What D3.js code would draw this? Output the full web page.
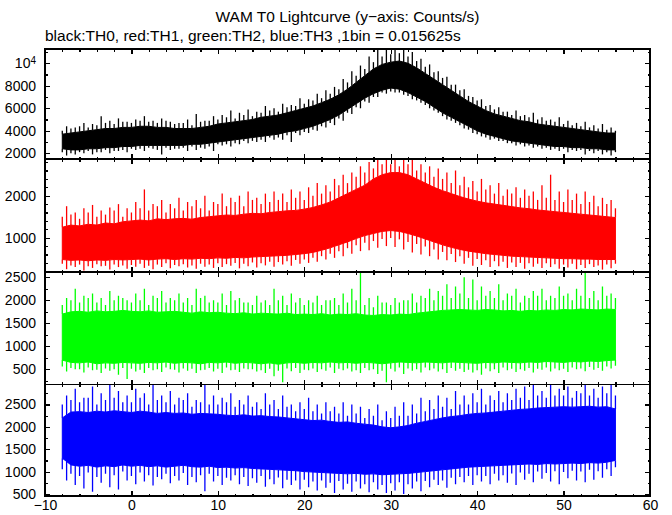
<!DOCTYPE html>
<html><head><meta charset="utf-8">
<script src="https://cdn.jsdelivr.net/npm/d3@7"></script>
<style>
body{margin:0;background:#fff}
text{font-family:"Liberation Sans",Arial,Helvetica,sans-serif}
</style>
</head><body>
<svg id="c" width="672" height="515"></svg>
<script>
// ---------------- text ----------------
const titleText = "WAM T0 Lightcurve (y\u2212axis: Counts/s)";
const subtitleText = "black:TH0, red:TH1, green:TH2, blue:TH3 ,1bin = 0.015625s";

// ---------------- time grid (s) ----------------
const tStart = -8, tEnd = 56;
const xTicks = [-10, 0, 10, 20, 30, 40, 50, 60];
const xMinorStep = 2;

// ---------------- tick values ----------------
const th0Ticks = [2000, 4000, 6000, 8000, 10000];
const th1Ticks = [1000, 2000];
const th2Ticks = [500, 1000, 1500, 2000, 2500];
const th3Ticks = [500, 1000, 1500, 2000, 2500];
const th0Minor = 1000, th1Minor = 200, th2Minor = 250, th3Minor = 250;
const th0Range = [1490, 11270];
const th1Range = [183, 2874];
const th2Range = [170, 2615];
const th3Range = [455, 2946];

// ---------------- TH0 (black) counts/s ----------------
// dense band edges at whole seconds t = -8..56
const th0CoreHi = [3700,3800,3900,4000,4100,4200,4200,4300,
  4300,4400,4400,4300,4300,4200,4200,4200,4300,4400,
  4600,4700,4800,4900,5000,5200,5300,5400,5600,5800,
  6000,6200,6500,6800,7200,7700,8300,8900,9500,9900,
  10100,10200,10000,9600,9100,8600,8100,7600,7100,6600,
  6200,5800,5500,5300,5100,4900,4800,4600,4500,4400,
  4300,4200,4100,4000,3900,3800,3800];
const th0CoreLo = [2400,2300,2300,2400,2400,2500,2500,2600,
  2600,2700,2700,2700,2700,2700,2700,2800,2800,2900,
  3000,3100,3200,3300,3400,3500,3600,3700,3900,4000,
  4200,4400,4700,5000,5400,5900,6400,6900,7300,7600,
  7800,7700,7400,7000,6600,6100,5600,5200,4800,4400,
  4000,3700,3500,3300,3100,3000,2900,2800,2700,2600,
  2600,2500,2500,2400,2400,2300,2300];
// secondary extreme bins at whole seconds t = -8..56
const th0MidHi = [4000,4200,4400,4300,4500,4700,4600,4800,
  4700,4900,4800,4700,4900,4600,4700,4500,4800,4900,
  5000,5200,5100,5400,5300,5600,5800,5700,6100,6200,
  6400,6700,6900,7300,7700,8300,8900,9500,10100,10600,
  10800,10900,10600,10200,9700,9200,8700,8100,7600,7100,
  6700,6200,5900,5700,5400,5300,5200,5000,4900,4800,
  4600,4500,4400,4300,4200,4100,4000];
const th0MidLo = [2100,2000,2100,2200,2100,2300,2200,2300,
  2400,2400,2500,2300,2500,2400,2500,2600,2500,2600,
  2800,2800,2900,3100,3100,3200,3400,3400,3600,3800,
  3900,4100,4400,4700,5100,5600,6100,6600,7000,7400,
  7500,7400,7100,6700,6300,5800,5300,4900,4500,4100,
  3700,3400,3300,3100,2900,2800,2700,2600,2500,2400,
  2400,2300,2300,2200,2200,2100,2100];
// extreme bins in each second (at t+0.5, t = -8..55)
const th0SpikeHi = [4400,4300,4700,4600,5300,4900,5100,4800,
  5000,5300,4900,5100,4800,4700,5000,5500,4900,5300,
  5400,5800,5600,5900,5700,6200,6000,6400,6300,6900,
  6800,7300,7600,7900,8600,9300,9800,10600,11300,11400,
  11400,11300,11000,10400,9900,9300,8800,8100,7700,7000,
  6800,6300,6100,5700,5800,5400,5600,5200,5000,5200,
  4900,4700,4800,4500,4600,4300];
const th0SpikeLo = [1800,1900,2000,1900,2100,2000,2200,2100,
  2300,2200,2400,1900,2300,2400,2200,2300,2400,2200,
  2700,2600,2800,2900,3000,3000,3200,3200,3000,3600,
  3800,4000,4300,4500,4900,5500,6000,6500,7000,7300,
  7400,7200,6800,6500,6000,5600,5000,4700,4200,3800,
  3500,3200,3100,2900,2700,2600,2500,2400,2300,2200,
  2100,2200,1900,2000,1900,1800];

// ---------------- TH1 (red) ----------------
const th1CoreHi = [1250,1300,1280,1320,1300,1350,1330,1380,
  1400,1420,1400,1450,1430,1450,1460,1440,1480,1500,
  1520,1540,1530,1560,1580,1570,1600,1620,1640,1650,
  1680,1720,1780,1850,1950,2050,2150,2250,2400,2500,
  2550,2550,2500,2400,2300,2200,2120,2050,1980,1920,
  1870,1830,1800,1770,1740,1710,1690,1660,1640,1620,
  1600,1580,1560,1540,1520,1500,1480];
const th1CoreLo = [480,460,470,450,470,460,480,470,
  480,490,470,490,500,480,500,490,510,500,
  520,510,530,520,540,550,560,570,580,600,
  620,650,700,760,830,900,980,1050,1100,1150,
  1170,1150,1100,1040,970,900,830,770,720,680,
  650,620,600,580,560,550,540,530,520,510,
  500,500,490,490,480,480,480];
const th1MidHi = [1500,1550,1450,1600,1500,1550,1650,1500,
  1600,1700,1650,1750,1600,1700,1650,1750,1700,1650,
  1800,1750,1850,1750,1900,1800,1850,1900,1850,1950,
  1900,2000,2050,2100,2250,2300,2450,2550,2650,2750,
  2750,2700,2750,2600,2550,2450,2400,2300,2250,2200,
  2100,2150,2050,2000,2050,1950,2000,1900,1950,1900,
  1850,1900,1800,1850,1750,1800,1700];
const th1MidLo = [380,340,360,320,370,330,360,340,
  350,380,330,360,390,350,370,340,380,360,
  390,370,400,380,410,390,430,420,440,470,
  480,520,560,620,680,750,820,880,920,970,
  990,960,900,850,790,720,660,610,560,520,
  490,460,440,430,410,400,390,380,390,370,
  360,380,350,370,340,360,380];
const th1SpikeHi = [1750,1600,1700,1780,1650,1720,1800,1700,
  1850,2150,1800,1900,1800,1950,1850,1900,2000,1850,
  2050,1950,2000,2100,1950,2050,2100,2050,2150,2100,
  2200,2300,2250,2400,2500,2550,2700,2800,2880,2880,
  2880,2850,2880,2750,2700,2650,2550,2600,2450,2350,
  2400,2250,2300,2150,2200,2150,2100,2250,2500,2100,
  2150,2050,2100,2000,1950,1900];
const th1SpikeLo = [250,300,220,280,320,240,300,260,
  310,280,250,300,270,320,290,260,310,280,
  300,330,270,320,290,340,310,360,330,380,
  400,430,480,520,560,620,680,700,760,800,
  780,720,650,600,560,480,460,420,380,330,
  350,300,320,280,300,260,310,280,300,260,
  290,250,280,300,240,270];

// ---------------- TH2 (green) ----------------
const th2CoreHi = [1700,1750,1760,1740,1770,1750,1760,1780,
  1760,1750,1770,1740,1750,1760,1740,1720,1750,1730,
  1740,1720,1710,1730,1700,1720,1710,1700,1720,1690,
  1700,1690,1710,1680,1700,1690,1710,1680,1670,1690,
  1680,1700,1690,1720,1740,1760,1780,1790,1800,1790,
  1780,1800,1790,1770,1780,1760,1780,1770,1790,1780,
  1800,1790,1810,1800,1790,1810,1800];
const th2CoreLo = [700,650,640,660,620,640,630,650,
  640,630,650,640,660,630,650,640,620,650,
  640,660,630,650,640,620,640,610,640,650,
  630,650,640,660,640,650,630,650,640,620,
  640,660,650,640,660,650,640,660,650,640,
  630,650,640,660,650,640,660,650,670,660,
  650,670,660,680,670,690,700];
const th2MidHi = [1900,2000,1950,2050,1950,1900,2000,2050,
  1950,2000,1900,2050,1950,2000,1950,1900,2050,1950,
  1950,1900,2000,1950,1900,1950,1900,2000,1900,1950,
  1900,1950,1900,2000,1900,1950,2000,1900,1850,1950,
  1900,1950,2000,1950,2050,2000,2100,2050,2150,2050,
  2000,2100,2050,2000,2100,1950,2050,2100,2000,2050,
  2100,2000,2100,2050,2000,2100,2050];
const th2MidLo = [560,530,500,540,490,520,500,530,
  510,490,530,500,540,490,520,510,480,530,
  510,540,490,520,500,480,510,470,520,530,
  490,520,500,540,510,520,480,530,500,470,
  510,540,520,500,540,520,500,530,510,490,
  480,520,500,540,510,500,530,510,540,520,
  510,540,520,550,530,560,580];
const th2SpikeHi = [2050,2250,2100,2150,2050,2200,2100,2000,
  2150,2250,2100,2200,2050,2150,2050,2250,2100,2000,
  2150,2200,2050,1950,2100,2000,2250,2100,2150,2050,
  2000,2100,2000,2050,2150,2250,2620,2050,2100,1950,
  2050,2000,2150,2100,2250,2200,2350,2300,2500,2450,
  2300,2200,2350,2150,2250,2100,2200,2250,2100,2300,
  2150,2250,2620,2200,2300,2150];
const th2SpikeLo = [450,500,430,480,420,470,380,290,
  450,420,480,440,500,430,470,420,490,450,
  420,480,440,500,450,420,350,220,460,420,
  480,440,470,420,480,450,420,480,400,220,
  450,400,470,430,480,450,420,470,440,430,
  380,460,420,480,440,470,430,490,450,480,
  440,500,460,490,470,520];

// ---------------- TH3 (blue) ----------------
const th3CoreHi = [2200,2330,2340,2320,2350,2330,2360,2340,
  2320,2350,2330,2300,2320,2300,2310,2280,2300,2290,
  2280,2260,2250,2270,2240,2250,2230,2220,2200,2180,
  2160,2140,2150,2120,2100,2110,2080,2060,2040,2000,
  1980,2000,2030,2080,2120,2160,2200,2230,2250,2280,
  2300,2310,2330,2350,2370,2390,2400,2420,2430,2440,
  2450,2440,2450,2460,2440,2450,2400];
const th3CoreLo = [1300,1150,1120,1140,1100,1130,1110,1150,
  1120,1140,1110,1130,1100,1120,1140,1110,1100,1120,
  1090,1100,1080,1090,1070,1060,1050,1040,1030,1020,
  1000,990,980,970,960,950,960,940,950,930,
  940,950,960,980,1000,1020,1040,1060,1080,1100,
  1110,1120,1130,1140,1150,1160,1170,1160,1180,1170,
  1180,1190,1180,1200,1190,1210,1250];
const th3MidHi = [2500,2600,2550,2650,2500,2600,2650,2550,
  2550,2650,2500,2600,2550,2500,2600,2450,2550,2500,
  2500,2550,2450,2500,2450,2400,2500,2400,2450,2350,
  2400,2350,2300,2350,2300,2250,2300,2200,2250,2150,
  2200,2250,2250,2300,2350,2400,2450,2400,2500,2500,
  2550,2500,2600,2550,2600,2650,2600,2700,2650,2700,
  2700,2650,2750,2700,2650,2750,2700];
const th3MidLo = [1050,950,900,980,880,950,920,1000,
  900,980,920,880,950,900,970,880,920,950,
  900,860,920,880,850,900,830,870,820,800,
  820,780,800,750,790,730,780,720,760,700,
  740,760,720,780,790,820,800,860,880,900,
  920,900,950,920,960,980,950,1000,970,1010,
  990,1020,1000,1040,1010,1050,1100];
const th3SpikeHi = [2700,2850,2650,2900,2750,2950,2800,2700,
  2850,2750,2950,2700,2800,2650,2750,2600,2950,2700,
  2650,2750,2600,2700,2550,2750,2600,2700,2500,2550,
  2650,2500,2550,2450,2550,2500,2450,2400,2500,2350,
  2450,2550,2500,2650,2600,2700,2650,2800,2700,2750,
  2850,2700,2800,2750,2850,2900,2950,2800,2950,2850,
  2900,2800,2950,2850,2900,2950];
const th3SpikeLo = [800,700,620,550,750,650,600,800,
  720,780,690,830,740,800,700,760,560,780,
  700,800,720,680,750,660,720,630,700,600,
  650,580,640,520,600,550,620,540,600,520,
  580,500,620,560,650,700,640,720,760,700,
  780,720,800,750,700,820,760,840,780,720,
  850,800,760,820,860,900];

// ---------------- layout ----------------
const svg = d3.select("#c");
const xLeft = 45, xRight = 650;
const majorLen = 5, minorLen = 2.5;
const fontSize = 14, titleSize = 15.5;

const x = d3.scaleLinear().domain([-10, 60]).range([xLeft, xRight]);
const tEdge = d3.range(tStart, tEnd + 1);
const tMid = d3.range(tStart + 0.5, tEnd, 1);

const panels = [
  {id:"th0", color:"#000000", top:49,    bottom:159,   range:th0Range, ticks:th0Ticks, minor:th0Minor,
   coreHi:th0CoreHi, coreLo:th0CoreLo, midHi:th0MidHi, midLo:th0MidLo, spikeHi:th0SpikeHi, spikeLo:th0SpikeLo},
  {id:"th1", color:"#ff0000", top:159,   bottom:272,   range:th1Range, ticks:th1Ticks, minor:th1Minor,
   coreHi:th1CoreHi, coreLo:th1CoreLo, midHi:th1MidHi, midLo:th1MidLo, spikeHi:th1SpikeHi, spikeLo:th1SpikeLo},
  {id:"th2", color:"#00ff00", top:272,   bottom:384.5, range:th2Range, ticks:th2Ticks, minor:th2Minor,
   coreHi:th2CoreHi, coreLo:th2CoreLo, midHi:th2MidHi, midLo:th2MidLo, spikeHi:th2SpikeHi, spikeLo:th2SpikeLo},
  {id:"th3", color:"#0000ff", top:384.5, bottom:496,   range:th3Range, ticks:th3Ticks, minor:th3Minor,
   coreHi:th3CoreHi, coreLo:th3CoreLo, midHi:th3MidHi, midLo:th3MidLo, spikeHi:th3SpikeHi, spikeLo:th3SpikeLo}
];

// titles
svg.append("text").attr("x", (xLeft + xRight) / 2).attr("y", 22)
  .attr("text-anchor", "middle").attr("font-size", titleSize).text(titleText);
svg.append("text").attr("x", xLeft).attr("y", 41)
  .attr("font-size", titleSize).text(subtitleText);

const defs = svg.append("defs");
const xMinorVals = d3.range(-10, 60 + 0.001, xMinorStep).filter(v => !xTicks.includes(v));

panels.forEach((p, k) => {
  const y = d3.scaleLinear().domain(p.range).range([p.bottom, p.top]);
  defs.append("clipPath").attr("id", "clip-" + p.id)
    .append("rect").attr("x", xLeft).attr("y", p.top)
    .attr("width", xRight - xLeft).attr("height", p.bottom - p.top);
  const g = svg.append("g").attr("clip-path", `url(#clip-${p.id})`);

  // dense band
  const area = d3.area()
    .x((d, i) => x(tEdge[i]))
    .y0((d, i) => y(p.coreLo[i]))
    .y1((d, i) => y(p.coreHi[i]));
  g.append("path").datum(p.coreHi).attr("d", area)
    .attr("fill", p.color).attr("stroke", p.color).attr("stroke-width", 1);

  // spikes: per-second extremes at t+0.5, secondary extremes at whole seconds
  const spikes = [];
  tMid.forEach((t, i) => {
    spikes.push({t, a: (p.coreHi[i] + p.coreHi[i + 1]) / 2, b: p.spikeHi[i]});
    spikes.push({t, a: (p.coreLo[i] + p.coreLo[i + 1]) / 2, b: p.spikeLo[i]});
  });
  tEdge.forEach((t, i) => {
    spikes.push({t, a: p.coreHi[i], b: p.midHi[i]});
    spikes.push({t, a: p.coreLo[i], b: p.midLo[i]});
  });
  g.selectAll("line.sp").data(spikes).enter().append("line")
    .attr("x1", d => x(d.t)).attr("x2", d => x(d.t))
    .attr("y1", d => y(d.a)).attr("y2", d => y(d.b))
    .attr("stroke", p.color).attr("stroke-width", 1.3);

  // axes (ticks inward)
  const minorVals = d3.range(Math.ceil(p.range[0] / p.minor) * p.minor, p.range[1], p.minor)
    .filter(v => !p.ticks.includes(v));
  const axes = svg.append("g").attr("shape-rendering", "crispEdges");
  const leftAx = axes.append("g").attr("transform", `translate(${xLeft},0)`)
    .call(d3.axisLeft(y).tickValues(p.ticks).tickSize(-majorLen).tickPadding(9).tickFormat(d3.format("d")));
  axes.append("g").attr("transform", `translate(${xLeft},0)`)
    .call(d3.axisLeft(y).tickValues(minorVals).tickSize(-minorLen).tickFormat(""));
  axes.append("g").attr("transform", `translate(${xRight},0)`)
    .call(d3.axisRight(y).tickValues(p.ticks).tickSize(-majorLen).tickFormat(""));
  axes.append("g").attr("transform", `translate(${xRight},0)`)
    .call(d3.axisRight(y).tickValues(minorVals).tickSize(-minorLen).tickFormat(""));
  axes.append("g").attr("transform", `translate(0,${p.top})`)
    .call(d3.axisTop(x).tickValues(xTicks).tickSize(-majorLen).tickFormat(""));
  axes.append("g").attr("transform", `translate(0,${p.top})`)
    .call(d3.axisTop(x).tickValues(xMinorVals).tickSize(-minorLen).tickFormat(""));
  axes.append("g").attr("transform", `translate(0,${p.bottom})`)
    .call(d3.axisBottom(x).tickValues(xTicks).tickSize(-majorLen).tickPadding(4)
      .tickFormat(k === panels.length - 1 ? d3.format("d") : ""));
  axes.append("g").attr("transform", `translate(0,${p.bottom})`)
    .call(d3.axisBottom(x).tickValues(xMinorVals).tickSize(-minorLen).tickFormat(""));

  axes.selectAll(".domain").remove();
  axes.selectAll(".tick line").attr("stroke", "#000").attr("stroke-width", 1.2);
  axes.selectAll("text").attr("font-size", fontSize)
    .attr("font-family", '"Liberation Sans",Arial,Helvetica,sans-serif').attr("fill", "#000");

  // 10^4 label
  leftAx.selectAll(".tick").filter(d => d === 10000).select("text").each(function () {
    const t = d3.select(this).text("");
    t.append("tspan").text("10");
    t.append("tspan").attr("font-size", 10).attr("dy", "-0.45em").text("4");
  });

  // frame
  svg.append("rect").attr("x", xLeft).attr("y", p.top)
    .attr("width", xRight - xLeft).attr("height", p.bottom - p.top)
    .attr("fill", "none").attr("stroke", "#000").attr("stroke-width", 1.3)
    .attr("shape-rendering", "crispEdges");
});
</script>
</body></html>
